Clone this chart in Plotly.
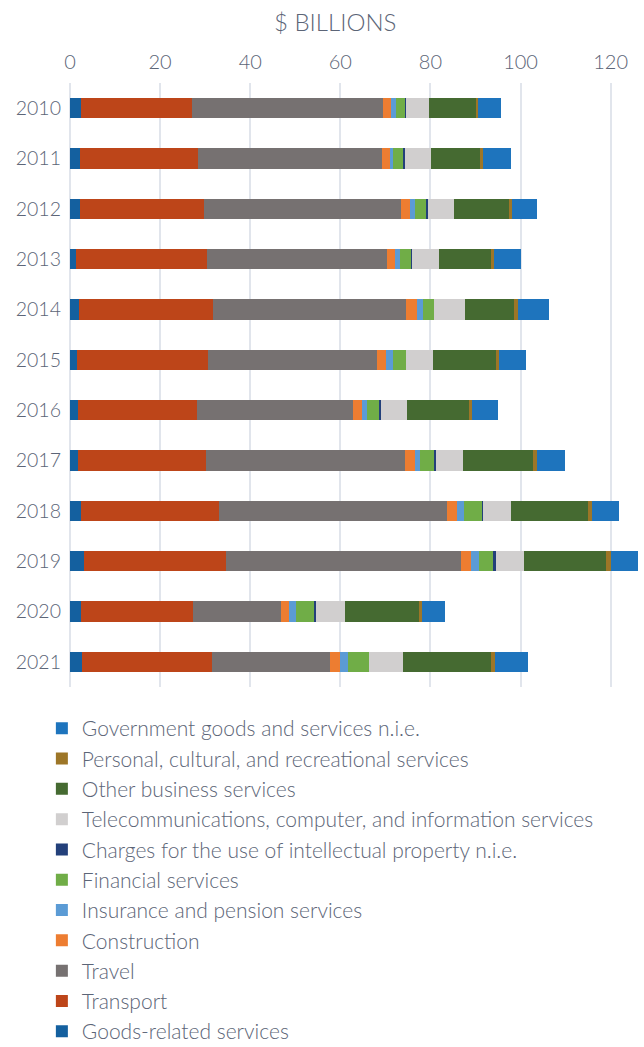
import plotly.graph_objects as go

# Services exports by category, $ billions
years = ["2010", "2011", "2012", "2013", "2014", "2015",
         "2016", "2017", "2018", "2019", "2020", "2021"]

goods_related = [2.4, 2.2, 2.2, 1.3, 2.0, 1.5, 1.8, 1.8, 2.4, 3.1, 2.4, 2.7]
transport = [24.7, 26.2, 27.5, 29.1, 29.7, 29.1, 26.4, 28.4, 30.7, 31.5, 24.9, 28.8]
travel = [42.4, 40.9, 43.8, 40.0, 42.9, 37.5, 34.6, 44.2, 50.6, 52.2, 19.5, 26.2]
construction = [1.8, 1.7, 2.0, 1.7, 2.4, 2.0, 1.9, 2.2, 2.2, 2.2, 1.8, 2.2]
insurance = [1.0, 0.7, 1.1, 1.1, 1.4, 1.7, 1.2, 1.0, 1.5, 1.8, 1.6, 1.7]
financial = [2.1, 2.4, 2.6, 2.5, 2.4, 2.8, 2.9, 3.2, 4.1, 3.3, 4.0, 4.8]
ip_charges = [0.2, 0.3, 0.3, 0.1, 0.1, 0.05, 0.2, 0.4, 0.2, 0.4, 0.3, 0.05]
telecom = [5.1, 5.7, 5.7, 6.0, 6.8, 6.0, 5.8, 6.0, 6.2, 6.3, 6.5, 7.5]
other_business = [10.5, 10.9, 12.2, 11.7, 10.9, 14.0, 13.8, 15.6, 17.1, 18.2, 16.5, 19.5]
personal = [0.3, 0.7, 0.6, 0.6, 0.8, 0.6, 0.6, 0.9, 0.9, 1.1, 0.6, 0.9]
government = [5.1, 6.2, 5.7, 5.9, 6.9, 6.0, 5.8, 6.2, 6.0, 6.0, 5.1, 7.3]

x_ticks = [0, 20, 40, 60, 80, 100, 120]

series = [
    ("Goods-related services", goods_related, "#14609f"),
    ("Transport", transport, "#bd4519"),
    ("Travel", travel, "#767171"),
    ("Construction", construction, "#ed7d31"),
    ("Insurance and pension services", insurance, "#5b9bd5"),
    ("Financial services", financial, "#70ad47"),
    ("Charges for the use of intellectual property n.i.e.", ip_charges, "#23407a"),
    ("Telecommunications, computer, and information services", telecom, "#d1cfcf"),
    ("Other business services", other_business, "#456a31"),
    ("Personal, cultural, and recreational services", personal, "#9d7627"),
    ("Government goods and services n.i.e.", government, "#1e74bd"),
]

FONT = "Lato"
TEXT = "#5c6577"

fig = go.Figure()
for i, (name, vals, color) in enumerate(series):
    fig.add_trace(go.Bar(
        y=years, x=vals, name=name, orientation="h",
        marker=dict(color=color, line=dict(width=0)),
        legendgroup=f"g{i}",
    ))

fig.add_annotation(
    text="$ BILLIONS",
    xref="paper", yref="paper",
    x=0.4617, y=1.101, xanchor="center", yanchor="middle",
    showarrow=False,
    font=dict(family=FONT, size=24, color=TEXT, weight=300),
)

fig.update_layout(
    width=644, height=1047,
    barmode="stack",
    bargap=0.59,
    plot_bgcolor="white",
    paper_bgcolor="white",
    margin=dict(l=70, r=0, t=83, b=360),
    font=dict(family=FONT, color=TEXT, weight=300),
    showlegend=True,
    legend=dict(
        traceorder="reversed",
        orientation="v",
        xref="paper", yref="container",
        x=-0.049, xanchor="left",
        y=0.3237, yanchor="top",
        font=dict(family=FONT, size=21, color=TEXT, weight=300),
        tracegroupgap=6,
        itemclick=False,
    ),
    xaxis=dict(
        side="top",
        range=[0, 127.4],
        tickvals=x_ticks,
        showgrid=True,
        gridcolor="#e1e5ec",
        gridwidth=1.5,
        zeroline=True,
        zerolinecolor="#e1e5ec",
        zerolinewidth=1.5,
        showline=False,
        ticks="",
        ticklabelstandoff=9,
        tickfont=dict(family=FONT, size=20, color=TEXT, weight=300),
        fixedrange=True,
    ),
    yaxis=dict(
        autorange="reversed",
        type="category",
        showgrid=False,
        zeroline=False,
        showline=False,
        ticks="",
        ticklabelstandoff=8,
        tickfont=dict(family=FONT, size=19.5, color=TEXT, weight=300),
        fixedrange=True,
    ),
)

fig.write_html("out.html")
